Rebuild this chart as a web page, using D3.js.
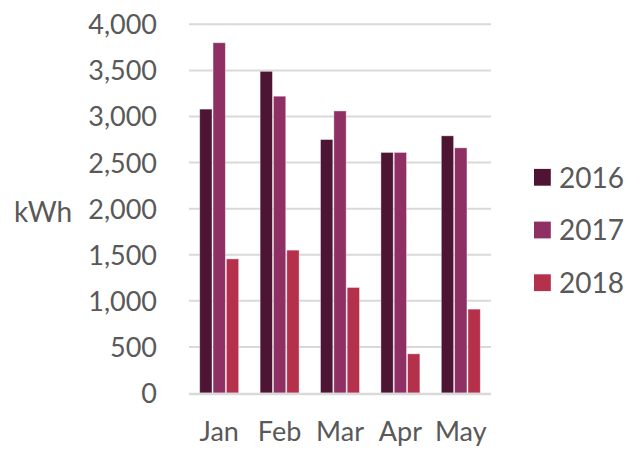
<!DOCTYPE html>
<html><head><meta charset="utf-8">
<script src="https://cdn.jsdelivr.net/npm/d3@7"></script>
<style>body{margin:0;background:#fff}svg{display:block}text{font-family:Lato,"Open Sans",sans-serif;fill:#595959}</style>
</head><body><svg id="c" width="634" height="451"></svg>
<script>
const months = ["Jan","Feb","Mar","Apr","May"];
const years = ["2016","2017","2018"];
const v2016 = [3080,3490,2750,2610,2790];
const v2017 = [3800,3220,3060,2610,2660];
const v2018 = [1455,1550,1145,425,910];
const yTicks = [0,500,1000,1500,2000,2500,3000,3500,4000];
const colors = ["#4E1434","#8E3063","#B5304A"];

const series = [v2016,v2017,v2018];
const svg = d3.select("#c");
const L=189,R=491,T=24.3,B=393;
const y = d3.scaleLinear().domain([0,4000]).range([B,T]);
const x0 = d3.scaleBand().domain(months).range([L,R]).paddingInner(0.338).paddingOuter(0.169);
const x1 = d3.scaleBand().domain(years).range([0,x0.bandwidth()]);

const g = svg.append("g");
g.selectAll("line.grid").data(yTicks.filter(t=>t>0)).join("line")
  .attr("x1",L).attr("x2",R).attr("y1",d=>y(d)).attr("y2",d=>y(d))
  .attr("stroke","#D9D9D9").attr("stroke-width",2);

const yAxis = d3.axisLeft(y).tickValues(yTicks).tickFormat(d3.format(",")).tickSize(0).tickPadding(0);
const ya = svg.append("g").attr("transform","translate(157,0)").call(yAxis);
ya.select(".domain").remove();
ya.selectAll("text").style("font-size","27px").attr("fill","#595959").attr("dy","0.35em").attr("font-family","Lato");

months.forEach((m,i)=>{
  years.forEach((yr,j)=>{
    g.append("rect")
      .attr("x",x0(m)+x1(yr)+0.5).attr("width",x1.bandwidth()-1)
      .attr("y",y(series[j][i])).attr("height",B-y(series[j][i]))
      .attr("fill",colors[j]).attr("stroke","#fff").attr("stroke-width",0.8).attr("stroke-opacity",0.5);
  });
});

g.append("line").attr("x1",L).attr("x2",R).attr("y1",B+1).attr("y2",B+1)
  .attr("stroke","#D9D9D9").attr("stroke-width",2.5);

const xAxis = d3.axisBottom(x0).tickSize(0).tickPadding(0);
const xa = svg.append("g").attr("transform","translate(0,441)").call(xAxis);
xa.select(".domain").remove();
xa.selectAll("text").style("font-size","27px").attr("fill","#595959").attr("dy","0").attr("font-family","Lato");

svg.append("text").attr("x",14).attr("y",222).style("font-size","28px").text("kWh");

const leg = svg.append("g");
years.forEach((yr,j)=>{
  const cy = 177.3 + j*52.7;
  leg.append("rect").attr("x",534).attr("y",cy-8.4).attr("width",16.8).attr("height",16.8).attr("fill",colors[j]);
  leg.append("text").attr("x",559).attr("y",cy+10.2).style("font-size","28px").text(yr);
});
</script></body></html>
